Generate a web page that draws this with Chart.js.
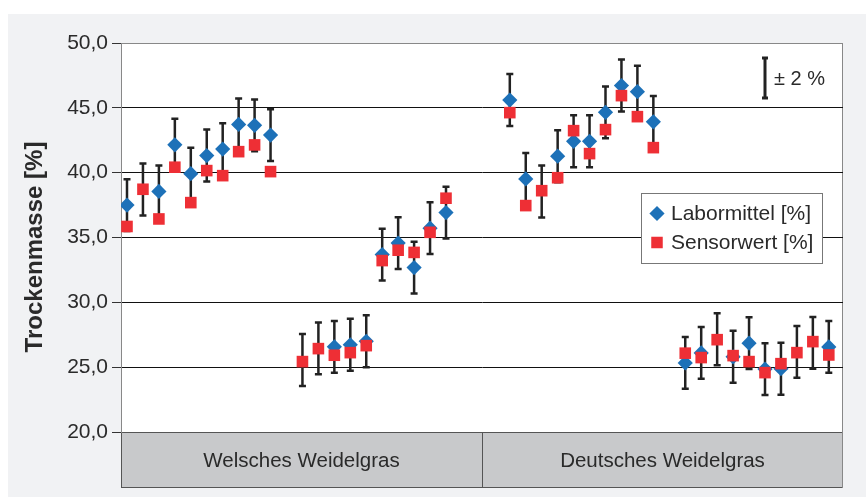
<!DOCTYPE html>
<html><head><meta charset="utf-8">
<script src="https://cdn.jsdelivr.net/npm/chart.js@4/dist/chart.umd.min.js"></script>
<style>html,body{margin:0;padding:0;background:#fff;} canvas{display:block;}</style>
</head><body>
<canvas id="c" width="866" height="498"></canvas>
<script>
// sample positions (slot index along the x axis)
const slots = [0,1,2,3,4,5,6,7,8,9, 11,12,13,14,15,16,17,18,19,20,
               24,25,26,27,28,29,30,31,32,33, 35,36,37,38,39,40,41,42,43,44];
// Labormittel [%] (also the centre of the ± 2 % bars)
const labormittel = [37.5,38.7,38.55,42.15,39.92,41.32,41.82,43.72,43.65,42.9,
                     25.55,26.45,26.57,26.73,27.0,33.68,34.57,32.68,35.72,36.92,
                     45.6,39.52,38.55,41.27,42.42,42.42,44.65,46.72,46.25,43.92,
                     25.33,26.1,27.15,25.8,26.85,24.85,24.88,26.18,26.87,26.56];
// Sensorwert [%]
const sensorwert = [35.85,38.72,36.43,40.42,37.69,40.16,39.77,41.62,42.14,40.08,
                    25.43,26.43,25.92,26.12,26.66,33.22,34.02,33.85,35.4,38.03,
                    44.63,37.46,38.61,39.61,43.24,41.47,43.32,45.94,44.32,41.93,
                    26.08,25.74,27.12,25.89,25.43,24.58,25.27,26.12,26.97,25.94];
// slots where no Labormittel marker is visible (only the bar)
const labMarkerHidden = [1, 11, 12, 26, 37, 42, 43];
const errorHalf = 2; // ± 2 %
const groupLabels = ['Welsches Weidelgras', 'Deutsches Weidelgras'];
const yTickValues = [20, 25, 30, 35, 40, 45, 50];
const seriesNames = ['Labormittel [%]', 'Sensorwert [%]'];
const yTitle = 'Trockenmasse [%]';
const errorNote = '± 2 %';

const BLUE = '#1d71b8', RED = '#ee2f35', FONT = '"Liberation Sans", Arial, Helvetica, sans-serif';

function diamond(ctx, x, y, r, color) {
  ctx.beginPath(); ctx.moveTo(x, y - r); ctx.lineTo(x + r, y); ctx.lineTo(x, y + r); ctx.lineTo(x - r, y); ctx.closePath();
  ctx.fillStyle = color; ctx.fill();
}
function square(ctx, x, y, s, color) { ctx.fillStyle = color; ctx.fillRect(x - s / 2, y - s / 2, s, s); }
function errBar(ctx, x, y1, y2, cap, lw) {
  ctx.strokeStyle = '#222'; ctx.lineWidth = lw; ctx.lineCap = 'butt';
  ctx.beginPath(); ctx.moveTo(x, y1); ctx.lineTo(x, y2);
  ctx.moveTo(x - cap, y1); ctx.lineTo(x + cap, y1);
  ctx.moveTo(x - cap, y2); ctx.lineTo(x + cap, y2); ctx.stroke();
}

const decor = {
  id: 'decor',
  beforeDraw(chart) {
    const { ctx, chartArea: a } = chart;
    ctx.save();
    ctx.fillStyle = '#fff'; ctx.fillRect(0, 0, chart.width, chart.height);
    ctx.fillStyle = '#f1f2f4'; ctx.fillRect(8, 14, chart.width - 8, 483);
    ctx.fillStyle = '#fff'; ctx.fillRect(a.left, a.top, a.right - a.left, a.bottom - a.top);
    // category band
    const bTop = a.bottom, bBot = a.bottom + 56, mid = (a.left + a.right) / 2;
    ctx.fillStyle = '#c8c9cb'; ctx.fillRect(a.left, bTop, a.right - a.left, bBot - bTop);
    ctx.strokeStyle = '#555'; ctx.lineWidth = 1;
    ctx.strokeRect(a.left + 0.5, bTop + 0.5, a.right - a.left - 1, bBot - bTop - 1);
    ctx.beginPath(); ctx.moveTo(mid + 0.5, bTop); ctx.lineTo(mid + 0.5, bBot); ctx.stroke();
    ctx.fillStyle = '#2a2a2a'; ctx.font = '20.5px ' + FONT; ctx.textAlign = 'center'; ctx.textBaseline = 'middle';
    ctx.fillText(groupLabels[0], (a.left + mid) / 2, bTop + 29);
    ctx.fillText(groupLabels[1], (mid + a.right) / 2, bTop + 29);
    // top / right border
    ctx.strokeStyle = '#888';
    ctx.beginPath(); ctx.moveTo(a.left, a.top + 0.5); ctx.lineTo(a.right, a.top + 0.5);
    ctx.moveTo(a.right - 0.5, a.top); ctx.lineTo(a.right - 0.5, bBot); ctx.stroke();
    // y title
    ctx.save(); ctx.translate(35, 247); ctx.rotate(-Math.PI / 2);
    ctx.font = 'bold 24px ' + FONT; ctx.fillStyle = '#2a2a2a'; ctx.textAlign = 'center'; ctx.textBaseline = 'middle';
    ctx.fillText(yTitle, 0, 0); ctx.restore();
    ctx.restore();
  },
  beforeDatasetsDraw(chart) {
    const { ctx, scales: { x, y } } = chart;
    ctx.save();
    slots.forEach((s, i) => {
      const px = x.getPixelForValue(s);
      errBar(ctx, px, y.getPixelForValue(labormittel[i] + errorHalf), y.getPixelForValue(labormittel[i] - errorHalf), 3.5, 2.5);
    });
    ctx.restore();
  },
  afterDraw(chart) {
    const { ctx } = chart;
    ctx.save();
    // legend box
    ctx.fillStyle = '#fff'; ctx.fillRect(641, 193, 182, 71);
    ctx.strokeStyle = '#777'; ctx.lineWidth = 1; ctx.strokeRect(641.5, 193.5, 181, 70);
    diamond(ctx, 657, 213.5, 7.6, BLUE);
    square(ctx, 657, 242.5, 11.5, RED);
    ctx.fillStyle = '#2a2a2a'; ctx.font = '21px ' + FONT; ctx.textAlign = 'left'; ctx.textBaseline = 'middle';
    ctx.fillText(seriesNames[0], 671, 214.5);
    ctx.fillText(seriesNames[1], 671, 243.5);
    // ± 2 % note
    errBar(ctx, 765, 58, 98, 3, 3);
    ctx.font = '20px ' + FONT; ctx.fillText(errorNote, 774, 79);
    ctx.restore();
  }
};

const labPoints = slots.map((s, i) => ({ x: s, y: labormittel[i] })).filter(p => !labMarkerHidden.includes(p.x));

new Chart(document.getElementById('c'), {
  type: 'scatter',
  data: {
    datasets: [
      { label: seriesNames[1], data: slots.map((s, i) => ({ x: s, y: sensorwert[i] })),
        pointStyle: 'rect', pointRadius: 8.2, backgroundColor: RED, borderWidth: 0, pointBorderWidth: 0 },
      { label: seriesNames[0], data: labPoints,
        pointStyle: 'rectRot', pointRadius: 7.6, backgroundColor: BLUE, borderWidth: 0, pointBorderWidth: 0 }
    ]
  },
  options: {
    responsive: false, animation: false, events: [],
    layout: { padding: { left: 0, top: 43, right: 23, bottom: 66 } },
    plugins: { legend: { display: false }, tooltip: { enabled: false } },
    scales: {
      x: { type: 'linear', display: false, min: -0.376, max: 44.89 },
      y: {
        min: 20, max: 50,
        afterBuildTicks: s => { s.ticks = yTickValues.map(v => ({ value: v })); },
        afterFit: s => { s.width = 121; },
        ticks: { callback: v => v.toFixed(1).replace('.', ','), color: '#2a2a2a', font: { size: 21, family: FONT }, padding: 4 },
        grid: {
          color: c => (c.tick && (c.tick.value === 20 || c.tick.value === 50)) ? 'rgba(0,0,0,0)' : '#111',
          tickColor: '#333', tickLength: 9, lineWidth: 1
        },
        border: { color: '#888', width: 1 }
      }
    }
  },
  plugins: [decor]
});
</script>
</body></html>
